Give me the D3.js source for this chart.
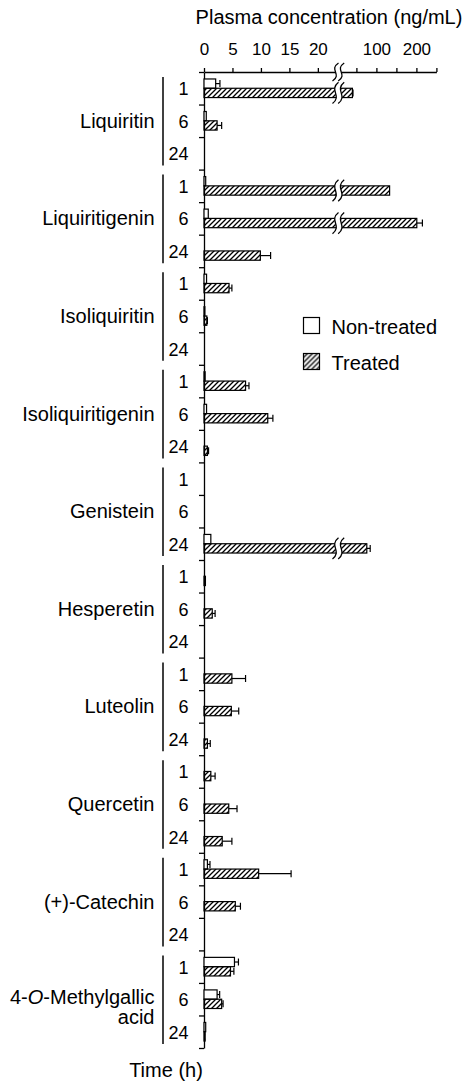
<!DOCTYPE html>
<html>
<head>
<meta charset="utf-8">
<script src="https://cdn.jsdelivr.net/npm/d3@7"></script>
<style>
  body { margin: 0; background: #fff; }
  text { font-family: "Liberation Sans", Arial, sans-serif; fill: #000; }
</style>
</head>
<body>
<div id="chart"></div>
<script>
// compounds top to bottom, 3 sampling times each
const compounds = ["Liquiritin", "Liquiritigenin", "Isoliquiritin", "Isoliquiritigenin", "Genistein",
  "Hesperetin", "Luteolin", "Quercetin", "(+)-Catechin", "4-O-Methylgallic acid"];
const times = ["1", "6", "24"];
const series = ["Non-treated", "Treated"];

// plasma concentration (ng/mL), order: compound x time (1, 6, 24 h)
const nonTreated    = [2.05, 0.4, 0,   0.3, 0.75, 0,   0.45, 0.15, 0,   0.2, 0.45, 0,   0, 0, 1.2,
                       0, 0, 0,        0, 0, 0,        0, 0, 0,         0.6, 0, 0,      5.35, 2.3, 0.3];
const nonTreatedErr = [0.75, 0, 0,     0, 0, 0,        0, 0, 0,         0, 0, 0,        0, 0, 0,
                       0, 0, 0,        0, 0, 0,        0, 0, 0,         0.45, 0, 0,     0.7, 0.45, 0];
const treated       = [40, 2.3, 0,     133, 201, 9.9,  4.4, 0.5, 0,     7.3, 11.2, 0.6, 0, 0, 76,
                       0.25, 1.45, 0,  4.9, 4.8, 0.6,  1.2, 4.35, 3.2,  9.6, 5.5, 0,    4.65, 3.1, 0.2];
const treatedErr    = [1.5, 0.8, 0,    0, 14, 1.8,     0.5, 0.1, 0,     0.6, 0.9, 0.2,  0, 0, 8.5,
                       0, 0.5, 0,      2.4, 1.3, 0.5,  0.75, 1.45, 1.7, 5.7, 0.9, 0,    0.6, 0.25, 0];

const lowTicks = [0, 5, 10, 15, 20];
const highTicks = [50, 100, 150, 200, 250];
const highLabels = [100, 200];

var width = 474, height = 1090;
var plotTop = 72, plotBottom = 1048, axisX = 204;

var svg = d3.select("#chart")
  .append("svg")
    .attr("width", width)
    .attr("height", height);

// hatch for treated bars
svg.append("defs").append("pattern")
    .attr("id", "hatch")
    .attr("patternUnits", "userSpaceOnUse")
    .attr("width", 5)
    .attr("height", 5)
  .append("path")
    .attr("d", "M0,5 L5,0 M-1,1 L1,-1 M4,6 L6,4")
    .attr("stroke", "#000")
    .attr("stroke-width", 1.3);

// broken x scale: 0-23 linear, then compressed 50-250
var breakAt = 23.1;
var xLow = d3.scaleLinear().domain([0, breakAt]).range([axisX, 335.5]);
var xHigh = d3.scaleLinear().domain([12, 250]).range([341.2, 436.4]);
function x(v) { return v <= breakAt ? xLow(v) : xHigh(v); }

// rows
let rows = [];
compounds.forEach(function(c, i) {
  times.forEach(function(t, j) { rows.push({compound: c, time: t, idx: i * 3 + j}); });
});

var y = d3.scaleBand().domain(d3.range(rows.length)).range([plotTop, plotBottom]);
var yLine = d3.scaleLinear().domain([0, rows.length]).range([plotTop, plotBottom]);
var ySeries = d3.scaleBand().domain(series).range([0, y.bandwidth()]).paddingOuter(0.75);

// top axes
var axLow = svg.append("g")
    .attr("transform", "translate(0," + plotTop + ")")
    .call(d3.axisTop(xLow).tickValues(lowTicks).tickSize(4).tickSizeOuter(0).tickPadding(13));
var axHigh = svg.append("g")
    .attr("transform", "translate(0," + plotTop + ")")
    .call(d3.axisTop(xHigh).tickValues(highTicks).tickSize(4).tickSizeOuter(0).tickPadding(13)
      .tickFormat(function(d) { return highLabels.includes(d) ? d : ""; }));

// left axis with ticks between time slots
var axLeft = svg.append("g")
    .attr("transform", "translate(" + axisX + ",0)")
    .call(d3.axisLeft(yLine).tickValues(d3.range(rows.length + 1)).tickSize(5).tickSizeOuter(0).tickFormat(""));

[axLow, axHigh, axLeft].forEach(function(a) {
  a.selectAll("path, line").attr("stroke-width", 1.3);
  a.selectAll("text").style("font-size", "17px");
});

// bars
let bars = [];
rows.forEach(function(r) {
  bars.push({row: r.idx, s: "Non-treated", v: nonTreated[r.idx], e: nonTreatedErr[r.idx]});
  bars.push({row: r.idx, s: "Treated", v: treated[r.idx], e: treatedErr[r.idx]});
});
bars = bars.filter(function(d) { return d.v > 0; });

svg.append("g")
  .selectAll("rect")
  .data(bars)
  .enter()
  .append("rect")
    .attr("x", x(0))
    .attr("y", function(d) { return y(d.row) + ySeries(d.s); })
    .attr("width", function(d) { return x(d.v) - x(0); })
    .attr("height", ySeries.bandwidth())
    .attr("fill", function(d) { return d.s == "Treated" ? "url(#hatch)" : "#fff"; })
    .attr("stroke", "#000")
    .attr("stroke-width", 1.2);

// error bars (upper side only)
var errs = svg.append("g")
  .selectAll("g")
  .data(bars.filter(function(d) { return d.e > 0; }))
  .enter()
  .append("g")
    .attr("stroke", "#000")
    .attr("stroke-width", 1.2);
errs.append("line")
    .attr("x1", function(d) { return x(d.v); })
    .attr("x2", function(d) { return x(d.v + d.e); })
    .attr("y1", function(d) { return y(d.row) + ySeries(d.s) + ySeries.bandwidth() / 2; })
    .attr("y2", function(d) { return y(d.row) + ySeries(d.s) + ySeries.bandwidth() / 2; });
errs.append("line")
    .attr("x1", function(d) { return x(d.v + d.e); })
    .attr("x2", function(d) { return x(d.v + d.e); })
    .attr("y1", function(d) { return y(d.row) + ySeries(d.s) + ySeries.bandwidth() / 2 - 3.5; })
    .attr("y2", function(d) { return y(d.row) + ySeries(d.s) + ySeries.bandwidth() / 2 + 3.5; });

// break marks: two wavy strokes with a white gap between
function breakMark(cy, h) {
  var a = xLow.range()[1], b = xHigh.range()[0];
  function wave(cx) {
    return "M" + (cx + 3) + "," + (cy - h) + " C" + (cx - 7) + "," + (cy - h / 4) + " " + (cx + 7) + "," + (cy + h / 4) + " " + (cx - 3) + "," + (cy + h);
  }
  var g = svg.append("g");
  g.append("path")
    .attr("d", wave(a) + " L" + (b - 3) + "," + (cy + h) + " C" + (b + 7) + "," + (cy + h / 4) + " " + (b - 7) + "," + (cy - h / 4) + " " + (b + 3) + "," + (cy - h) + " Z")
    .attr("fill", "#fff");
  [a, b].forEach(function(cx) {
    g.append("path")
      .attr("d", wave(cx))
      .attr("fill", "none")
      .attr("stroke", "#000")
      .attr("stroke-width", 1.3);
  });
}
breakMark(plotTop, 9);
bars.filter(function(d) { return d.v > breakAt; }).forEach(function(d) {
  breakMark(y(d.row) + ySeries(d.s) + ySeries.bandwidth() / 2, ySeries.bandwidth() / 2 + 6);
});

// time labels
svg.append("g")
  .selectAll("text")
  .data(rows)
  .enter()
  .append("text")
    .attr("x", 188.5)
    .attr("y", function(d) { return y(d.idx) + y.bandwidth() / 2 + 7; })
    .attr("text-anchor", "end")
    .style("font-size", "18px")
    .text(function(d) { return d.time; });

// compound brackets and names
compounds.forEach(function(c, i) {
  var gTop = yLine(i * 3), gBot = yLine(i * 3 + 3), mid = (gTop + gBot) / 2;
  svg.append("line")
    .attr("x1", 163).attr("x2", 163)
    .attr("y1", gTop + 5).attr("y2", gBot - 4)
    .attr("stroke", "#000")
    .attr("stroke-width", 1.5);

  var lines = c.indexOf("Methylgallic") >= 0 ? ["4-O-Methylgallic", "acid"] : [c];
  lines.forEach(function(l, k) {
    var t = svg.append("text")
      .attr("x", 154.5)
      .attr("y", mid + 7 - (lines.length - 1) * 2 + k * 20)
      .attr("text-anchor", "end")
      .style("font-size", "20px");
    var parts = l.split("-O-");
    if (parts.length == 2) {
      t.append("tspan").text(parts[0] + "-");
      t.append("tspan").style("font-style", "italic").text("O");
      t.append("tspan").text("-" + parts[1]);
    } else {
      t.text(l);
    }
  });
});

// titles
svg.append("text")
  .attr("x", 329)
  .attr("y", 24)
  .attr("text-anchor", "middle")
  .style("font-size", "20px")
  .text("Plasma concentration (ng/mL)");
svg.append("text")
  .attr("x", 166)
  .attr("y", 1077)
  .attr("text-anchor", "middle")
  .style("font-size", "20px")
  .text("Time (h)");

// legend
var legend = svg.append("g").attr("transform", "translate(303.5,317.5)");
series.forEach(function(s, i) {
  legend.append("rect")
    .attr("y", i * 36)
    .attr("width", 16)
    .attr("height", 16)
    .attr("fill", s == "Treated" ? "url(#hatch)" : "#fff")
    .attr("stroke", "#000")
    .attr("stroke-width", 1.2);
  legend.append("text")
    .attr("x", 28)
    .attr("y", i * 36 + 16.5)
    .style("font-size", "20px")
    .text(s);
});
</script>
</body>
</html>
